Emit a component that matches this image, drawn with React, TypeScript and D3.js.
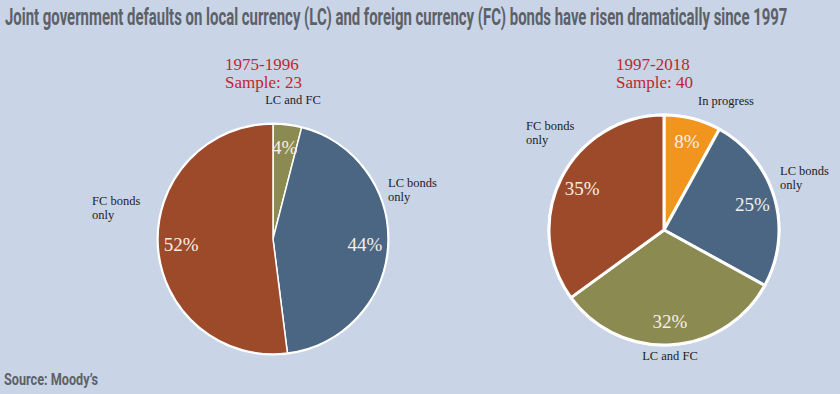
import * as d3 from "d3";
import { useEffect, useRef } from "react";

const W = 840;
const H = 394;

// data
const earlyCategories = ["LC and FC", "LC bonds only", "FC bonds only"];
const earlyValues = [4, 44, 52];
const earlyColors = ["#8b8a50", "#4b6683", "#9d4a2b"];

const lateCategories = ["In progress", "LC bonds only", "LC and FC", "FC bonds only"];
const lateValues = [8, 25, 32, 35];
const lateColors = ["#f1951f", "#4b6683", "#8b8a50", "#9d4a2b"];

const titleText =
  "Joint government defaults on local currency (LC) and foreign currency (FC) bonds have risen dramatically since 1997";
const sourceText = "Source: Moody’s";

// annotation layout (name labels sit beside the pies)
const earlyLabelPos: Record<string, [number, number, string]> = {
  "LC and FC": [20, -135, "middle"],
  "LC bonds only": [115, -52, "start"],
  "FC bonds only": [-181, -34, "start"],
};
const lateLabelPos: Record<string, [number, number, string]> = {
  "In progress": [62, -125, "middle"],
  "LC bonds only": [116, -55, "start"],
  "LC and FC": [6, 130, "middle"],
  "FC bonds only": [-138, -100, "start"],
};

// condensed text: measured, then squeezed horizontally to the wanted width
function FitText({
  x,
  y,
  width,
  size,
  text,
}: {
  x: number;
  y: number;
  width: number;
  size: number;
  text: string;
}) {
  const ref = useRef<SVGTextElement>(null);
  useEffect(() => {
    const el = ref.current;
    if (!el) return;
    const len = el.getComputedTextLength();
    const k = len > 0 ? width / len : 1;
    d3.select(el).attr("transform", `translate(${x},${y}) scale(${k},1)`);
  }, [text, width]);
  return (
    <text
      ref={ref}
      transform={`translate(${x},${y})`}
      fill="#5d6168"
      fontFamily="'Liberation Sans Narrow', 'Roboto', sans-serif"
      fontSize={size}
      fontWeight={700}
    >
      {text}
    </text>
  );
}

function Pie({
  cx,
  cy,
  r,
  cats,
  vals,
  colors,
  labelPos,
  heading,
  headingX,
  gap,
}: {
  cx: number;
  cy: number;
  r: number;
  cats: string[];
  vals: number[];
  colors: string[];
  labelPos: Record<string, [number, number, string]>;
  heading: string[];
  headingX: number;
  gap: number;
}) {
  const arcs = d3
    .pie<number>()
    .sort(null)
    .value((d) => d)(vals);
  const arc = d3.arc<d3.PieArcDatum<number>>().innerRadius(0).outerRadius(r);
  const labelArc = d3
    .arc<d3.PieArcDatum<number>>()
    .innerRadius(r * 0.8)
    .outerRadius(r * 0.8);

  return (
    <g>
      <text
        x={headingX}
        y={70}
        fill="#c1272d"
        fontFamily="'Liberation Serif', serif"
        fontSize={17}
      >
        {heading[0]}
      </text>
      <text
        x={headingX}
        y={88}
        fill="#c1272d"
        fontFamily="'Liberation Serif', serif"
        fontSize={17}
      >
        {heading[1]}
      </text>
      <g transform={`translate(${cx},${cy})`}>
        <circle r={r + 1.5} fill="#ffffff" />
        {arcs.map((a, i) => (
          <path
            key={i}
            d={arc(a) as string}
            fill={colors[i]}
            stroke="#ffffff"
            strokeWidth={gap}
            strokeLinejoin="round"
          />
        ))}
        {arcs.map((a, i) => {
          const [x, y] = labelArc.centroid(a);
          return (
            <text
              key={"p" + i}
              x={x}
              y={y}
              dy="0.35em"
              textAnchor="middle"
              fill="#f6efe6"
              fontFamily="'Liberation Serif', serif"
              fontSize={19}
            >
              {vals[i] + "%"}
            </text>
          );
        })}
        {cats.map((c, i) => {
          const p = labelPos[c];
          const words = c.endsWith(" only") ? [c.replace(" only", ""), "only"] : [c];
          return (
            <text
              key={"l" + i}
              x={p[0]}
              y={p[1]}
              textAnchor={p[2] as any}
              fill="#222222"
              fontFamily="'Liberation Serif', serif"
              fontSize={12.5}
            >
              {words.map((w, j) => (
                <tspan key={j} x={p[0]} dy={j === 0 ? 0 : 14}>
                  {w}
                </tspan>
              ))}
            </text>
          );
        })}
      </g>
    </g>
  );
}

export default function App() {
  return (
    <svg
      width={W}
      height={H}
      style={{ position: "fixed", left: 0, top: 0, display: "block" }}
    >
      <rect width={W} height={H} fill="#c9d4e6" />
      <FitText x={5} y={25} width={783} size={24} text={titleText} />
      <Pie
        cx={273}
        cy={239}
        r={115}
        cats={earlyCategories}
        vals={earlyValues}
        colors={earlyColors}
        labelPos={earlyLabelPos}
        heading={["1975-1996", "Sample: 23"]}
        headingX={225}
        gap={1.5}
      />
      <Pie
        cx={664}
        cy={230}
        r={115}
        cats={lateCategories}
        vals={lateValues}
        colors={lateColors}
        labelPos={lateLabelPos}
        heading={["1997-2018", "Sample: 40"]}
        headingX={616}
        gap={3}
      />
      <FitText x={4} y={385} width={94} size={16} text={sourceText} />
    </svg>
  );
}
